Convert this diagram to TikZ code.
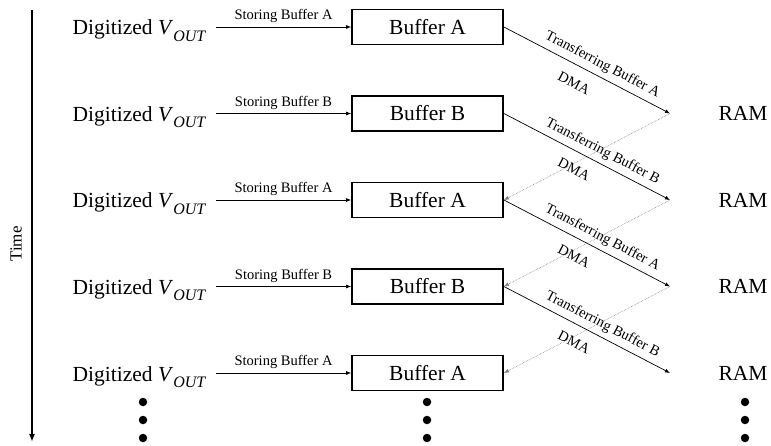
\documentclass[tikz,border=0pt]{standalone}
\usepackage{fontspec}
\setmainfont{Liberation Serif}
\usetikzlibrary{arrows.meta}
\begin{document}
\begin{tikzpicture}[x=1pt,y=-1pt,
  big/.style={font=\fontsize{21.5}{23}\selectfont, inner sep=0pt},
  lbl/.style={font=\fontsize{14.5}{15}\selectfont, inner sep=1pt},
  buf/.style={draw, line width=1.8pt, minimum width=151pt, minimum height=35pt, inner sep=0pt, font=\fontsize{21.5}{23}\selectfont},
  arr/.style={-{Latex[length=5pt,width=4pt]}, line width=0.7pt},
  dmaline/.style={-{Latex[length=5pt,width=4pt]}, line width=0.6pt, densely dotted, gray},
  bigdot/.style={circle, fill, inner sep=0pt, minimum size=8.5pt}
]
\useasboundingbox (0,0) rectangle (771,446);
% time axis
\coordinate (t0) at (32,10);
\coordinate (t1) at (32,442);
\draw[line width=2pt, -{Latex[length=8pt,width=6pt]}] (t0) -- (t1);
\node[font=\fontsize{17}{18}\selectfont, rotate=90] (time) at (16,244) {Time};
% rows
\foreach \i/\y/\L in {1/27/A, 2/113.5/B, 3/200/A, 4/286.5/B, 5/373/A} {
  \node[big, anchor=base] (d\i) at (139,\y+8) {Digitized \textit{V}\raisebox{-0.28em}{\fontsize{16}{16}\selectfont\itshape OUT}};
  \node[buf] (b\i) at (427.5,\y) {Buffer \L};
  \coordinate (s\i) at (216,\y);
  \draw[arr] (s\i) -- node[lbl, above=3pt] (st\i) {Storing Buffer \L} (b\i.west);
}
\foreach \i/\y in {2/113.5, 3/200, 4/286.5, 5/373} {
  \coordinate (p\i) at (670,\y);
  \node[big] (r\i) at (743,\y) {RAM};
}
% transfers
\foreach \i/\j/\L in {1/2/A, 2/3/B, 3/4/A, 4/5/B} {
  \draw[arr] (b\i.east) -- node[lbl, sloped, above=4pt, pos=0.56] (tr\i) {Transferring Buffer \L}
                          node[lbl, sloped, below=11pt, pos=0.47] (dm\i) {DMA} (p\j);
}
% DMA return (dotted)
\foreach \i/\j in {2/3, 3/4, 4/5} {
  \draw[dmaline] (p\i) -- (b\j.east);
}
% continuation dots
\foreach \x/\n in {143/a, 427/b, 745/c} {
  \foreach \yy/\k in {402/1, 420/2, 438/3} {
    \node[bigdot] (dot\n\k) at (\x,\yy) {};
  }
}
\end{tikzpicture}
\end{document}
